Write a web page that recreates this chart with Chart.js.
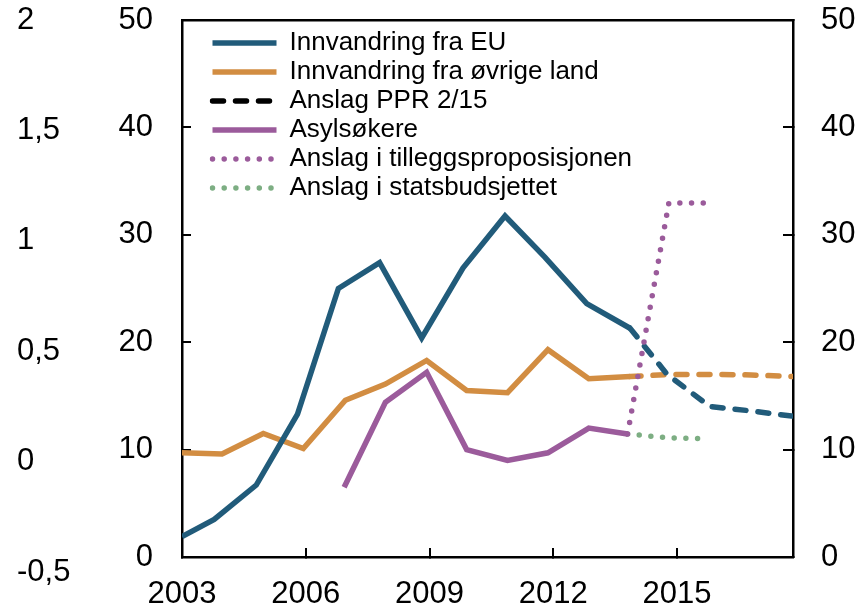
<!DOCTYPE html>
<html>
<head>
<meta charset="utf-8">
<script src="https://cdn.jsdelivr.net/npm/chart.js@4"></script>
<style>
  body { margin: 0; background: #fff; }
  canvas { display: block; }
</style>
</head>
<body>
<canvas id="chart" width="865" height="609"></canvas>
<script>
// tick labels
const xTicks = [2003, 2006, 2009, 2012, 2015];
const farLeftTicks = [-0.5, 0, 0.5, 1, 1.5, 2];

// Innvandring fra EU (x = år, lest av figuren)
const euYears = [2003, 2003.78, 2004.8, 2005.8, 2006.79, 2007.79, 2008.81, 2009.81, 2010.83, 2011.8, 2012.81, 2013.86];
const euValues = [1.9, 3.5, 6.7, 13.3, 25.0, 27.4, 20.4, 26.9, 31.75, 27.9, 23.6, 21.3];
const euPprYears = [2013.86, 2014.76, 2015.8, 2016.8, 2017.82];
const euPprValues = [21.3, 17.0, 14.0, 13.6, 13.1];

// Innvandring fra øvrige land
const otherYears = [2003, 2003.97, 2004.97, 2005.94, 2006.96, 2007.93, 2008.93, 2009.9, 2010.89, 2011.87, 2012.86, 2013.86];
const otherValues = [9.7, 9.6, 11.5, 10.1, 14.6, 16.1, 18.3, 15.5, 15.3, 19.3, 16.6, 16.8];
const otherPprYears = [2013.86, 2014.8, 2015.8, 2016.8, 2017.82];
const otherPprValues = [16.8, 17.0, 17.0, 16.95, 16.8];

// Asylsøkere
const asylYears = [2006.93, 2007.93, 2008.93, 2009.9, 2010.89, 2011.87, 2012.86, 2013.8];
const asylValues = [6.5, 14.4, 17.2, 10.0, 9.0, 9.7, 12.0, 11.45];
const forecastYears = [2013.8, 2014.8, 2015.7];
const tilleggValues = [11.45, 32.96, 32.96];
const budsjettValues = [11.45, 11.1, 11.0];

const blue = '#215b7a';
const orange = '#d28d42';
const purple = '#9b5b9b';
const green = '#7dae83';
const dash = [11, 12];
const dots = [0, 11.7];

function points(xs, ys) {
    return xs.map((x, i) => ({ x: x, y: ys[i] }));
}

function line(label, data, color, borderDash) {
    return {
        label: label,
        data: data,
        borderColor: color,
        backgroundColor: color,
        borderWidth: 5.5,
        borderDash: borderDash || [],
        borderCapStyle: borderDash ? 'round' : 'butt',
        pointRadius: 0,
        clip: 0
    };
}

// legend sits inside the plot, top left
const legendSpot = {
    id: 'legendSpot',
    afterLayout(chart) {
        const lg = chart.legend;
        const area = chart.chartArea;
        lg.left = area.left + 27.5;
        lg.top = area.top + 7;
        lg.right = lg.left + lg.width;
        lg.bottom = lg.top + lg.height;
    }
};

// legend samples take dash and width from the dataset line
function legendLabels(chart) {
    return Chart.defaults.plugins.legend.labels.generateLabels(chart).map(item => {
        const ds = chart.data.datasets[item.datasetIndex];
        item.lineDash = ds.borderDash;
        item.lineWidth = ds.borderWidth;
        item.lineCap = ds.borderCapStyle;
        item.strokeStyle = ds.borderColor;
        return item;
    });
}

// fixed axis sizes, no extra label padding pushing the plot inwards
function fixSize(size) {
    return function(axis) {
        axis.paddingTop = 0;
        axis.paddingBottom = 0;
        axis.paddingLeft = 0;
        axis.paddingRight = 0;
        if (axis.isHorizontal()) {
            axis.height = size;
        } else {
            axis.width = size;
        }
    };
}

const font = { family: 'Liberation Sans, Arial, sans-serif', size: 31 };
const axisLine = { color: '#000', width: 2.5 };
const tickMarks = (len) => ({ drawOnChartArea: false, color: '#000', lineWidth: 2, tickLength: len });

new Chart(document.getElementById('chart'), {
    type: 'line',
    data: {
        datasets: [
            line('Innvandring fra EU', points(euYears, euValues), blue),
            line('Innvandring fra øvrige land', points(otherYears, otherValues), orange),
            line('Anslag PPR 2/15', [], '#000', dash),
            line('Asylsøkere', points(asylYears, asylValues), purple),
            line('Anslag i tilleggsproposisjonen', points(forecastYears, tilleggValues), purple, dots),
            line('Anslag i statsbudsjettet', points(forecastYears, budsjettValues), green, dots),
            line('', points(euPprYears, euPprValues), blue, dash),
            line('', points(otherPprYears, otherPprValues), orange, dash)
        ]
    },
    options: {
        responsive: false,
        animation: false,
        layout: { padding: { left: 17, right: 10, top: 20, bottom: 0 } },
        scales: {
            x: {
                type: 'linear',
                position: 'bottom',
                min: 2003,
                max: 2017.81,
                afterBuildTicks: (axis) => { axis.ticks = xTicks.map(v => ({ value: v })); },
                afterFit: fixSize(52),
                grid: tickMarks(-9),
                border: axisLine,
                ticks: { color: '#000', font: { ...font, lineHeight: 1 }, padding: 30.5, maxRotation: 0, callback: (v) => String(v) }
            },
            xTop: {
                type: 'linear',
                position: 'top',
                min: 2003,
                max: 2017.81,
                afterFit: fixSize(0),
                grid: { display: false, drawTicks: false },
                ticks: { display: false },
                border: axisLine
            },
            y: {
                position: 'left',
                weight: 0,
                min: 0,
                max: 50,
                afterFit: fixSize(63),
                grid: tickMarks(-9),
                border: axisLine,
                ticks: { stepSize: 10, color: '#000', font: font, padding: 38 }
            },
            y2: {
                position: 'right',
                min: 0,
                max: 50,
                afterFit: fixSize(62),
                grid: tickMarks(-10),
                border: axisLine,
                ticks: { stepSize: 10, color: '#000', font: font, padding: 38 }
            },
            yFar: {
                position: 'left',
                weight: 1,
                min: -0.432,
                max: 2,
                afterBuildTicks: (axis) => { axis.ticks = farLeftTicks.map(v => ({ value: v })); },
                afterFit: fixSize(102),
                grid: { display: false, drawTicks: false },
                border: { display: false },
                ticks: { crossAlign: 'far', color: '#000', font: font, padding: 0, callback: (v) => String(v).replace('.', ',') }
            }
        },
        plugins: {
            tooltip: { enabled: false },
            legend: {
                position: 'chartArea',
                align: 'start',
                labels: {
                    usePointStyle: true,
                    pointStyle: 'line',
                    pointStyleWidth: 64,
                    padding: 3,
                    color: '#000',
                    font: { family: 'Liberation Sans, Arial, sans-serif', size: 26 },
                    generateLabels: legendLabels,
                    filter: (item) => item.text !== ''
                }
            }
        }
    },
    plugins: [legendSpot]
});
</script>
</body>
</html>
